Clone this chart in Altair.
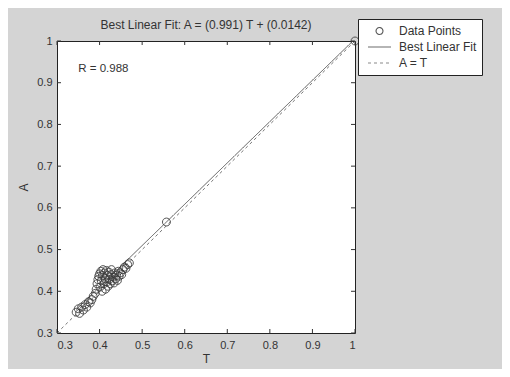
import altair as alt
import pandas as pd

# Data points (targets T vs network outputs A)
T_vals = [0.345, 0.350, 0.353, 0.358, 0.362, 0.366, 0.370, 0.374, 0.378, 0.382, 0.385,
          0.390, 0.392, 0.394, 0.396, 0.398, 0.400, 0.401, 0.403, 0.404, 0.406,
          0.407, 0.408, 0.410, 0.411, 0.413, 0.414, 0.416, 0.417, 0.419, 0.420,
          0.422, 0.423, 0.425, 0.427, 0.428, 0.430, 0.432, 0.434, 0.436, 0.438,
          0.440, 0.442, 0.444, 0.446, 0.449, 0.452, 0.455,
          0.458, 0.462, 0.466, 0.470, 0.557, 1.000]
A_vals = [0.350, 0.358, 0.347, 0.362, 0.355, 0.368, 0.362, 0.375, 0.372, 0.380, 0.388,
          0.395, 0.405, 0.418, 0.428, 0.436, 0.442, 0.410, 0.448, 0.425, 0.400,
          0.438, 0.452, 0.418, 0.444, 0.430, 0.405, 0.450, 0.422, 0.438, 0.412,
          0.446, 0.428, 0.418, 0.440, 0.452, 0.425, 0.434, 0.420, 0.444, 0.430,
          0.438, 0.426, 0.448, 0.436, 0.444, 0.440, 0.452,
          0.458, 0.455, 0.464, 0.468, 0.566, 1.000]

# Best linear fit endpoints (A = 0.991 T + 0.0142)
fit_T = [0.345, 1.0]
fit_A = [0.356, 1.005]

# Ideal line A = T
ideal_T = [0.3, 1.0]
ideal_A = [0.3, 1.0]

series_names = ["Data Points", "Best Linear Fit", "A = T"]
tick_values = [0.3, 0.4, 0.5, 0.6, 0.7, 0.8, 0.9, 1.0]

annot_T = [0.350]
annot_A = [0.932]
annot_text = ["R = 0.988"]

title_text = "Best Linear Fit:  A = (0.991) T + (0.0142)"

W, H = 298, 292
BG = "#d4d4d4"
INK = "#333333"
FONT = "Liberation Sans"
CIRCLE = "M -0.3,0 A 0.3,0.3 0 1,1 0.3,0 A 0.3,0.3 0 1,1 -0.3,0 Z"

pts = pd.DataFrame({"T": T_vals, "A": A_vals, "series": series_names[0]})
fit = pd.DataFrame({"T": fit_T, "A": fit_A, "series": series_names[1]})
ideal = pd.DataFrame({"T": ideal_T, "A": ideal_A, "series": series_names[2]})
ticks = pd.DataFrame({"v": tick_values})
annot = pd.DataFrame({"T": annot_T, "A": annot_A, "label": annot_text})
ttl = pd.DataFrame({"label": [title_text]})

xs = alt.Scale(domain=[0.3, 1.0], nice=False, zero=False)
ys = alt.Scale(domain=[0.3, 1.0], nice=False, zero=False)

x_enc = alt.X("T:Q", scale=xs, title="T",
              axis=alt.Axis(values=tick_values, format=".1~f", tickSize=0,
                            labelPadding=6, titlePadding=3, grid=False, domain=False))
y_enc = alt.Y("A:Q", scale=ys, title="A",
              axis=alt.Axis(values=tick_values, format=".1~f", tickSize=0,
                            labelPadding=5, titlePadding=6, grid=False, domain=False))

color_enc = alt.Color("series:N",
                      scale=alt.Scale(domain=series_names, range=["#3a3a3a", "#555555", "#777777"]),
                      legend=alt.Legend(title=None, orient="none", legendX=W + 3, legendY=-22,
                                        fillColor="white", strokeColor="#222222",
                                        padding=5, labelFontSize=12, labelColor=INK,
                                        symbolSize=529, symbolStrokeWidth=1.1,
                                        symbolOffset=4, labelOffset=7, clipHeight=14,
                                        rowPadding=2, labelFont=FONT,
                                        labelExpr="datum.label + '\u00a0\u00a0\u00a0\u00a0\u00a0'"))
shape_enc = alt.Shape("series:N",
                      scale=alt.Scale(domain=series_names, range=[CIRCLE, "stroke", "stroke"]),
                      legend=None)
dash_enc = alt.StrokeDash("series:N",
                          scale=alt.Scale(domain=series_names, range=[[1, 0], [1, 0], [3, 3]]),
                          legend=None)

ideal_layer = alt.Chart(ideal).mark_line(strokeWidth=1, clip=True).encode(
    x=x_enc, y=y_enc, color=color_enc, strokeDash=dash_enc)
fit_layer = alt.Chart(fit).mark_line(strokeWidth=1, clip=True).encode(
    x=x_enc, y=y_enc, color=color_enc, strokeDash=dash_enc)
pt_layer = alt.Chart(pts).mark_point(filled=False, size=700, strokeWidth=1, opacity=0.85).encode(
    x=x_enc, y=y_enc, color=color_enc, shape=shape_enc)

text_layer = alt.Chart(annot).mark_text(align="left", baseline="middle", fontSize=11.5,
                                        color=INK, font=FONT).encode(
    x=alt.X("T:Q", scale=xs), y=alt.Y("A:Q", scale=ys), text="label:N")

title_layer = alt.Chart(ttl).mark_text(align="center", baseline="middle", fontSize=12,
                                       color=INK, font=FONT).encode(
    x=alt.value(W / 2), y=alt.value(-16), text="label:N")

tk = alt.Chart(ticks)
tb = tk.mark_rule(color="#333", strokeWidth=1).encode(x=alt.X("v:Q", scale=xs), y=alt.value(H), y2=alt.value(H - 4))
tt = tk.mark_rule(color="#333", strokeWidth=1).encode(x=alt.X("v:Q", scale=xs), y=alt.value(0), y2=alt.value(4))
tl = tk.mark_rule(color="#333", strokeWidth=1).encode(y=alt.Y("v:Q", scale=ys), x=alt.value(0), x2=alt.value(4))
tr = tk.mark_rule(color="#333", strokeWidth=1).encode(y=alt.Y("v:Q", scale=ys), x=alt.value(W), x2=alt.value(W - 4))

chart = alt.layer(ideal_layer, fit_layer, pt_layer, text_layer, title_layer, tb, tt, tl, tr).properties(
    width=W, height=H,
    background=BG,
    autosize=alt.AutoSizeParams(type="none"),
    padding={"left": 49, "top": 33, "right": 147, "bottom": 36},
).configure_view(
    fill="white", stroke="#222222", strokeWidth=1
).configure_axis(
    labelFontSize=11, titleFontSize=12, labelColor=INK, titleColor=INK,
    labelFont=FONT, titleFont=FONT, titleFontWeight="normal"
)

chart.save("out.html", embed_options={"renderer": "svg", "actions": False})
